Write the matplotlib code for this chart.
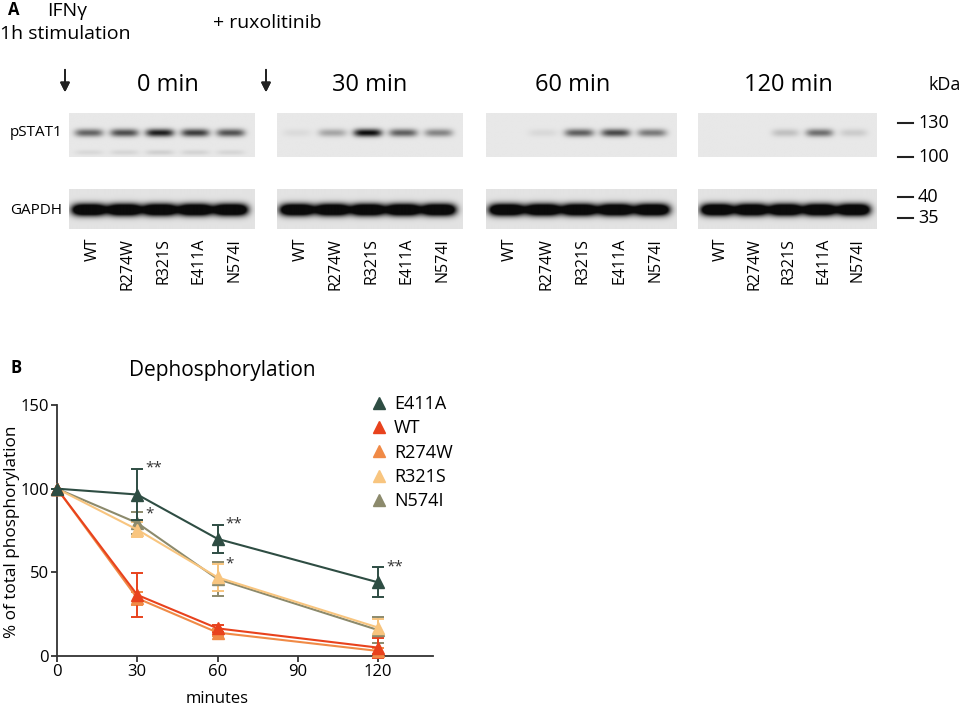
import numpy as np
import matplotlib
matplotlib.use("Agg")
import matplotlib.pyplot as plt
from matplotlib.lines import Line2D

plt.rcParams['font.family'] = ['Open Sans', 'DejaVu Sans']

W, H = 960, 706

# ---- blot data (relative band darkness) ----
lanes = ["WT", "R274W", "R321S", "E411A", "N574I"]
timepoints = ["0 min", "30 min", "60 min", "120 min"]
pstat1_bands = [
    [0.60, 0.70, 0.92, 0.78, 0.68],
    [0.06, 0.30, 1.00, 0.62, 0.45],
    [0.00, 0.07, 0.62, 0.72, 0.50],
    [0.00, 0.00, 0.18, 0.55, 0.13],
]
gapdh_bands = [
    [1.0, 1.0, 1.0, 1.0, 1.0],
    [1.0, 1.0, 1.0, 1.0, 1.0],
    [1.0, 1.0, 1.0, 1.0, 1.0],
    [1.0, 1.0, 1.0, 1.0, 1.0],
]
markers_kda = ["130", "100", "40", "35"]

# ---- dephosphorylation data ----
minutes = [0, 30, 60, 120]
mutants = ["E411A", "WT", "R274W", "R321S", "N574I"]
e411a = [100, 96.5, 70, 44]
e411a_err = [0, 15.5, 8.5, 9]
wt = [100, 36.5, 16.5, 5]
wt_err = [0, 13, 2, 6]
r274w = [100, 34.5, 14, 3]
r274w_err = [0, 4, 2, 2]
r321s = [100, 75.5, 47, 17]
r321s_err = [0, 4.5, 8, 5]
n574i = [100, 79.5, 46, 15.5]
n574i_err = [0, 6.5, 10, 8]
stars = [(30, 112.5, "**"), (30, 85, "*"), (60, 79, "**"), (60, 55, "*"), (120, 53.5, "**")]

colors = {"E411A": "#2e4d43", "WT": "#e8421d", "R274W": "#f08a46",
          "R321S": "#f8c57f", "N574I": "#8c8a6c"}

LANE_LO, LANE_HI = -0.06, 5.18


def px_axes(fig, x0, y0, x1, y1):
    return fig.add_axes([x0 / W, 1 - y1 / H, (x1 - x0) / W, (y1 - y0) / H])


def blot_image(bands, yc, ysig, xw, second=0.0, bg=0.91):
    nx, ny = 400, 80
    xs = np.linspace(LANE_LO, LANE_HI, nx)
    ys = np.linspace(1, 0, ny)
    X, Y = np.meshgrid(xs, ys)
    dens = np.zeros_like(X)
    for i, v in enumerate(bands):
        xc = i + 0.5
        hx = np.exp(-(np.abs(X - xc) / xw) ** 4)
        hy = np.exp(-((Y - yc) / ysig) ** 2)
        dens += v * hx * hy
        if second:
            dens += second * v * hx * np.exp(-((Y - 0.1) / 0.06) ** 2)
    dens = np.clip(dens, 0, 1)
    return bg - (bg - 0.04) * dens


fig = plt.figure(figsize=(W / 100, H / 100), dpi=100)

panel_x = [(69, 255), (277, 463), (486, 677), (698, 877)]
title_x = [168, 370, 573, 788]
for k, (x0, x1) in enumerate(panel_x):
    ax1 = px_axes(fig, x0, 113, x1, 157)
    img = blot_image(pstat1_bands[k], 0.55, 0.09, 0.40, second=0.12 if k == 0 else 0.0)
    ax1.imshow(img, cmap="gray", vmin=0, vmax=1, extent=(LANE_LO, LANE_HI, 0, 1),
               aspect="auto", interpolation="bilinear")
    ax1.set_axis_off()

    ax2 = px_axes(fig, x0, 189, x1, 229)
    img = blot_image(np.array(gapdh_bands[k]) * 1.8, 0.48, 0.15, 0.49, bg=0.89)
    ax2.imshow(img, cmap="gray", vmin=0, vmax=1, extent=(LANE_LO, LANE_HI, 0, 1),
               aspect="auto", interpolation="bilinear")
    ax2.set_axis_off()
    for i, lab in enumerate(lanes):
        ax2.text(i + 0.6, -0.22, lab, transform=ax2.get_xaxis_transform(),
                 rotation=90, ha="center", va="top", fontsize=11.5)

    fig.text(title_x[k] / W, 1 - 85 / H, timepoints[k], ha="center", va="center", fontsize=17)

fig.text(8 / W, 1 - 10 / H, "A", fontsize=12, fontweight="bold", ha="left", va="center")
fig.text(47 / W, 1 - 11 / H, "IFNγ", fontsize=14, ha="left", va="center")
fig.text(0 / W, 1 - 34 / H, "1h stimulation", fontsize=14, ha="left", va="center")
fig.text(213 / W, 1 - 23 / H, "+ ruxolitinib", fontsize=14, ha="left", va="center")
for ax_x in (65, 266):
    fig.add_artist(plt.annotate("", xy=(ax_x / W, 1 - 95 / H), xytext=(ax_x / W, 1 - 67 / H),
                                xycoords="figure fraction",
                                arrowprops=dict(arrowstyle="-|>", color="#222222", lw=1.3,
                                                mutation_scale=14)))
fig.text(10 / W, 1 - 133 / H, "pSTAT1", fontsize=11, ha="left", va="center")
fig.text(10 / W, 1 - 210 / H, "GAPDH", fontsize=11, ha="left", va="center")
fig.text(928 / W, 1 - 85 / H, "kDa", fontsize=13, ha="left", va="center")
for lab, yy in zip(markers_kda, [123, 157, 197, 218]):
    fig.add_artist(Line2D([898 / W, 913 / W], [1 - yy / H, 1 - yy / H], color="#222222", lw=1.5))
    fig.text(918 / W, 1 - yy / H, lab, fontsize=13, ha="left", va="center")

# ---- panel B ----
ax = px_axes(fig, 57, 405, 433, 656)
series = [(e411a, e411a_err), (wt, wt_err), (r274w, r274w_err), (r321s, r321s_err), (n574i, n574i_err)]
order = [4, 3, 2, 1, 0]
for idx in order:
    name = mutants[idx]
    vals, err = series[idx]
    ax.errorbar(minutes, vals, yerr=err, color=colors[name], marker="^", ms=8.5,
                lw=1.5, elinewidth=1.4, capsize=4, capthick=1.4, clip_on=False, zorder=3 + (idx == 0))
for xx, yy, s in stars:
    ax.text(xx + 3, yy, s, fontsize=11, color="#333333", ha="left", va="center")

ax.set_xlim(0, 140.5)
ax.set_ylim(0, 150)
ax.set_xticks([0, 30, 60, 90, 120])
ax.set_yticks([0, 50, 100, 150])
for sp in ["top", "right"]:
    ax.spines[sp].set_visible(False)
for sp in ["left", "bottom"]:
    ax.spines[sp].set_color("#333333")
    ax.spines[sp].set_linewidth(1.3)
ax.tick_params(direction="out", length=4, width=1.3, color="#333333", labelsize=12, pad=2)
ax.set_ylabel("% of total phosphorylation", fontsize=12.3)
ax.yaxis.set_label_coords(-0.098, 0.494)
ax.set_xlabel("minutes", fontsize=12)
ax.xaxis.set_label_coords(60 / 140.5, -0.14)
ax.set_title("Dephosphorylation", fontsize=15, x=(222 - 57) / 376, pad=21)

handles = [Line2D([], [], ls="none", marker="^", ms=8.5, color=colors[m]) for m in mutants]
ax.legend(handles, mutants, frameon=False, loc="upper left", bbox_to_anchor=(0.795, 1.105),
          handlelength=0.8, handletextpad=0.4, labelspacing=0.35, fontsize=13)

fig.text(10 / W, 1 - 368 / H, "B", fontsize=12, fontweight="bold", ha="left", va="center")

fig.savefig("out.png", dpi=100)
